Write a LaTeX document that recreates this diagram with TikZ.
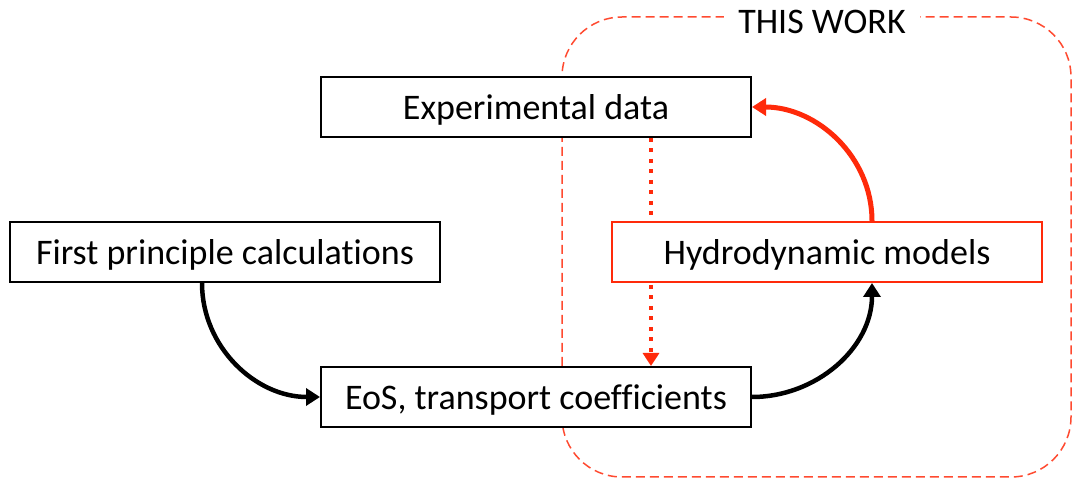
\documentclass[tikz,border=0pt]{standalone}
\usepackage{fontspec}
\setmainfont{Carlito}[Ligatures=NoCommon]
\usetikzlibrary{arrows.meta, positioning, backgrounds}
\definecolor{rojoTrabajo}{HTML}{FF2A0A}
\definecolor{rojoMarco}{HTML}{FF4A30}

\begin{document}
\begin{tikzpicture}[x=1pt, y=-1pt, font=\fontsize{36}{43}\selectfont,
        caja/.style={draw, line width=2pt, fill=white, minimum width=430pt,
            minimum height=60pt, inner sep=0pt, text depth=0pt, align=center},
        flecha/.style={line width=4.5pt, -{Triangle[length=14pt, width=17pt]}},
        flechaRoja/.style={flecha, rojoTrabajo, line width=5pt},
        punteada/.style={rojoTrabajo, line width=3.5pt,
            dash pattern=on 4pt off 6.5pt, -{Triangle[length=13pt, width=16pt]}},
        marco/.style={rojoMarco, line width=1.5pt, dash pattern=on 9pt off 5pt,
            rounded corners=60pt}]
        \useasboundingbox (0,0) rectangle (1072,478);
        \node[caja] (exp)   at (536,107) {Experimental data};
        \node[caja] (first) at (225,252) {First principle calculations};
        \node[caja, draw=rojoTrabajo] (hydro) at (827,252) {Hydrodynamic models};
        \node[caja] (eos)   at (536,397) {EoS, transport coefficients};
        \node[fill=white, inner xsep=14pt, inner ysep=2pt] (work) at (822,22) {THIS WORK};
        \begin{scope}[on background layer]
            \draw[marco] (562,17) rectangle (1071,477);
            \draw[punteada] ([xshift=115pt]exp.south) -- ([xshift=115pt]eos.north);
        \end{scope}
        \draw[flecha] ([xshift=-23pt]first.south) to[out=-90, in=180] (eos.west);
        \draw[flecha] (eos.east) to[out=0, in=-90] ([xshift=45pt]hydro.south);
        \draw[flechaRoja] ([xshift=45pt]hydro.north) to[out=90, in=0] (exp.east);
    \end{tikzpicture}
\end{document}
